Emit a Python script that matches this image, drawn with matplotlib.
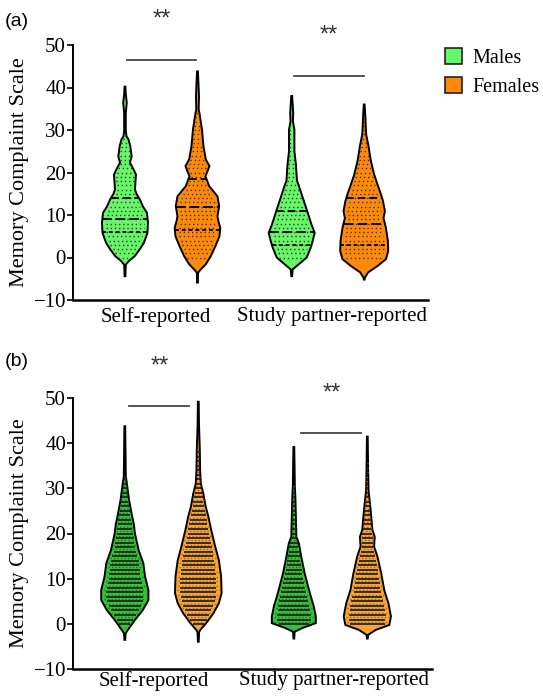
import numpy as np
import matplotlib
matplotlib.use("Agg")
import matplotlib.pyplot as plt
from matplotlib.patches import Patch

plt.rcParams["font.family"] = ["Liberation Serif", "DejaVu Serif"]

# -------------------------
# Data
# -------------------------

groups = ["Self-reported", "Study partner-reported"]
sexes = ["Males", "Females"]
positions = [0.0, 1.0, 2.3, 3.3]

# violin outlines: score values and half-widths (px) for each violin
# panel (a)
a_ms_y = [-4.4, -1.7, -0.8, 0.3, 2, 3.5, 5.8, 8.2, 10.5, 12, 13.6, 15, 16, 17.8, 19.5, 21, 22.3, 23.8, 26.2, 27.8, 28.5, 30, 34, 36.4, 38.5, 40.2]
a_ms_w = [0.4, 0.8, 4, 9.7, 15, 19, 22.5, 23, 22, 18, 15, 11.5, 10, 10.5, 11, 8, 5, 6.7, 5.3, 3.5, 1.5, 0.8, 0.8, 1.8, 0.8, 0.4]
a_fs_y = [-5.9, -3.6, -2.8, -1.6, 0.3, 2.7, 5, 7, 8.5, 9.7, 12.1, 14.4, 16.8, 19.1, 21.5, 23.1, 26.2, 30.1, 34, 34.8, 38, 41, 43.8]
a_fs_w = [0.4, 0.6, 3.3, 8.3, 13.3, 18, 22, 22.8, 21, 20, 21.7, 20, 11.7, 8, 12, 8.3, 6, 4.5, 2, 1.2, 1.5, 1, 0.4]
a_msp_y = [-4.4, -2.8, -2.0, 0, 2.3, 3.9, 5.8, 7.8, 10.9, 14.1, 17.2, 18.0, 21.9, 25.0, 30.1, 32, 34, 36, 38.0]
a_msp_w = [0.4, 1, 5, 15, 19, 21, 23, 19.7, 15.5, 11, 6.7, 5.3, 4.2, 2.7, 2.7, 1.2, 1.5, 1, 0.4]
a_fsp_y = [-5.2, -4.7, -3.5, -2.0, -0.4, 1.5, 3.9, 7.0, 9.3, 10.9, 13.3, 14.9, 17.2, 19.5, 22.7, 26.6, 28.9, 31, 33, 36.0]
a_fsp_w = [0.4, 0.8, 4, 13.3, 21.7, 24, 23.7, 21.7, 19.3, 20.7, 18.8, 16.7, 13.3, 10, 6.7, 4, 2, 1.5, 1.2, 0.4]

# panel (b)
b_ms_y = [-3.5, -2.1, -1.4, 0.9, 3.1, 5.3, 7.5, 10.5, 13.4, 16.3, 20.0, 22.2, 23.7, 27.4, 31.1, 32.6, 36, 40, 43.7]
b_ms_w = [0.4, 0.8, 2.7, 10, 17.8, 23.3, 23.3, 20, 18.3, 13.7, 10, 8.8, 7.3, 4.2, 2, 1, 0.8, 0.6, 0.4]
b_fs_y = [-3.9, -1.8, -1.3, 0.2, 2.4, 4.6, 6.8, 10.5, 14.1, 17.1, 20.8, 23.7, 25.9, 28.8, 31, 34, 38.4, 44, 49.1]
b_fs_w = [0.4, 0.8, 2, 7.8, 15, 20.3, 23, 22.5, 20.3, 16.7, 12.7, 10, 7.3, 5, 2.5, 1.8, 1.5, 0.7, 0.4]
b_msp_y = [-3.2, -1.7, -0.9, 0.2, 1.7, 3.9, 5.3, 7.5, 11.2, 14.9, 17.8, 19.3, 24, 28.1, 30.3, 35, 39.1]
b_msp_w = [0.4, 0.8, 8.3, 21.7, 21.7, 19.7, 17.8, 15, 10.7, 7.3, 5, 2.5, 2, 1.5, 1, 0.7, 0.4]
b_fsp_y = [-3.2, -2.4, -1.3, -0.2, 1.7, 4.6, 7.5, 11.2, 14.9, 17.1, 19.3, 20.8, 25.2, 29.6, 34, 41.4]
b_fsp_w = [0.4, 0.8, 8.3, 21.7, 23.3, 20.8, 16.7, 13.7, 10, 6.7, 7.3, 5, 3.3, 1.2, 0.8, 0.4]

# quartiles (Q1, median, Q3) in panel (a)
a_quart = [[6, 9, 14], [6.5, 12, 18.5], [3, 6, 11], [3, 8, 14]]
# highest integer score row of points
a_rows_max = [28, 34, 30, 33]
b_rows_max = [32, 38, 30, 35]

# significance bars: x0, x1, height, star height
a_sig = [(0.03, 0.98, 46.4, 56), (2.33, 3.30, 42.8, 52.2)]
b_sig = [(0.08, 0.90, 48.2, 56.8), (2.42, 3.24, 42.2, 50.9)]

a_colors = ["#66f866", "#ff8a0a"]
b_colors = ["#36c236", "#f7a632"]
b_dotcolors = ["#16761a", "#b0600c"]

PX = 72.5  # pixels per x unit

fig = plt.figure(figsize=(5.43, 6.98), dpi=100)
ax_a = fig.add_axes([73 / 543, 1 - 300 / 698, 355 / 543, 255 / 698])
ax_b = fig.add_axes([73 / 543, 1 - 669.3 / 698, 359 / 543, 271.6 / 698])


def violin(ax, pos, ys, ws, color):
    ys = np.array(ys)
    ws = np.array(ws) / PX
    xs = np.concatenate([pos - ws, (pos + ws)[::-1]])
    yy = np.concatenate([ys, ys[::-1]])
    ax.fill(xs, yy, facecolor=color, edgecolor="black", linewidth=1.4, zorder=2)
    return ys, ws


def setup(ax, xlim, xpad):
    ax.set_xlim(*xlim)
    ax.set_ylim(-10, 50)
    ax.set_yticks([-10, 0, 10, 20, 30, 40, 50])
    ax.set_yticklabels(["\u221210", "0", "10", "20", "30", "40", "50"])
    ax.set_xticks([0.42, 2.86])
    ax.set_xticklabels(groups)
    ax.tick_params(axis="x", length=0, pad=xpad, labelsize=15)
    ax.tick_params(axis="y", length=4, width=1.2, labelsize=15, pad=1)
    for s in ["top", "right"]:
        ax.spines[s].set_visible(False)
    ax.spines["left"].set_linewidth(1.4)
    ax.spines["bottom"].set_linewidth(1.8)
    ax.set_ylabel("Memory Complaint Scale", fontsize=16, labelpad=3)


def sig(ax, specs):
    for x0, x1, h, sh in specs:
        ax.plot([x0, x1], [h, h], color="#444444", lw=1.3, clip_on=False)
        ax.text((x0 + x1) / 2, sh, "**", ha="center", va="center",
                fontsize=17, family="Liberation Sans", color="#333333", clip_on=False)


# -------------------------
# Panel (a)
# -------------------------

a_prof = [(a_ms_y, a_ms_w), (a_fs_y, a_fs_w), (a_msp_y, a_msp_w), (a_fsp_y, a_fsp_w)]
for i, (ys, ws) in enumerate(a_prof):
    pos = positions[i]
    ys, ws = violin(ax_a, pos, ys, ws, a_colors[i % 2])
    for r in range(0, a_rows_max[i] + 1):
        half = np.interp(r, ys, ws) * 0.82
        ax_a.plot([pos - half, pos + half], [r, r], color="#333333",
                  lw=1.0, linestyle=(0, (1, 2)), zorder=3)
    q1, med, q3 = a_quart[i]
    for q, ls in [(q1, (0, (2, 1.5))), (med, (0, (5, 2))), (q3, (0, (4, 2)))]:
        half = np.interp(q, ys, ws)
        ax_a.plot([pos - half, pos + half], [q, q], color="black",
                  lw=1.4, linestyle=ls, zorder=4)

setup(ax_a, (-0.717, 4.18), 5)
sig(ax_a, a_sig)

# -------------------------
# Panel (b)
# -------------------------

b_prof = [(b_ms_y, b_ms_w), (b_fs_y, b_fs_w), (b_msp_y, b_msp_w), (b_fsp_y, b_fsp_w)]
for i, (ys, ws) in enumerate(b_prof):
    pos = positions[i] + 0.02
    ys, ws = violin(ax_b, pos, ys, ws, b_colors[i % 2])
    for r in range(0, b_rows_max[i] + 1):
        half = np.interp(r, ys, ws) * 0.78
        ax_b.plot([pos - half, pos + half], [r, r], color="#222222",
                  lw=1.3, zorder=4, solid_capstyle="butt")
        half2 = np.interp(r + 0.5, ys, ws) * 0.9
        ax_b.plot([pos - half2, pos + half2], [r + 0.5, r + 0.5],
                  color=b_dotcolors[i % 2], lw=1.0, linestyle=(0, (1, 1.5)), zorder=3)

setup(ax_b, (-0.685, 4.2), 1.5)
sig(ax_b, b_sig)

# -------------------------
# Legend and panel letters
# -------------------------

handles = [Patch(facecolor=a_colors[0], edgecolor="#222222", linewidth=1.2, label=sexes[0]),
           Patch(facecolor=a_colors[1], edgecolor="#222222", linewidth=1.2, label=sexes[1])]
fig.legend(handles=handles, loc="upper left", bbox_to_anchor=(445 / 543, 1 - 48 / 698),
           frameon=False, fontsize=14.5, handlelength=0.85, handleheight=0.85,
           handletextpad=0.5, labelspacing=0.45, borderpad=0, borderaxespad=0)

fig.text(5 / 543, 1 - 22 / 698, "(a)", fontsize=14, family="Liberation Sans", va="center")
fig.text(5 / 543, 1 - 361 / 698, "(b)", fontsize=14, family="Liberation Sans", va="center")

fig.savefig("out.png", dpi=100)
